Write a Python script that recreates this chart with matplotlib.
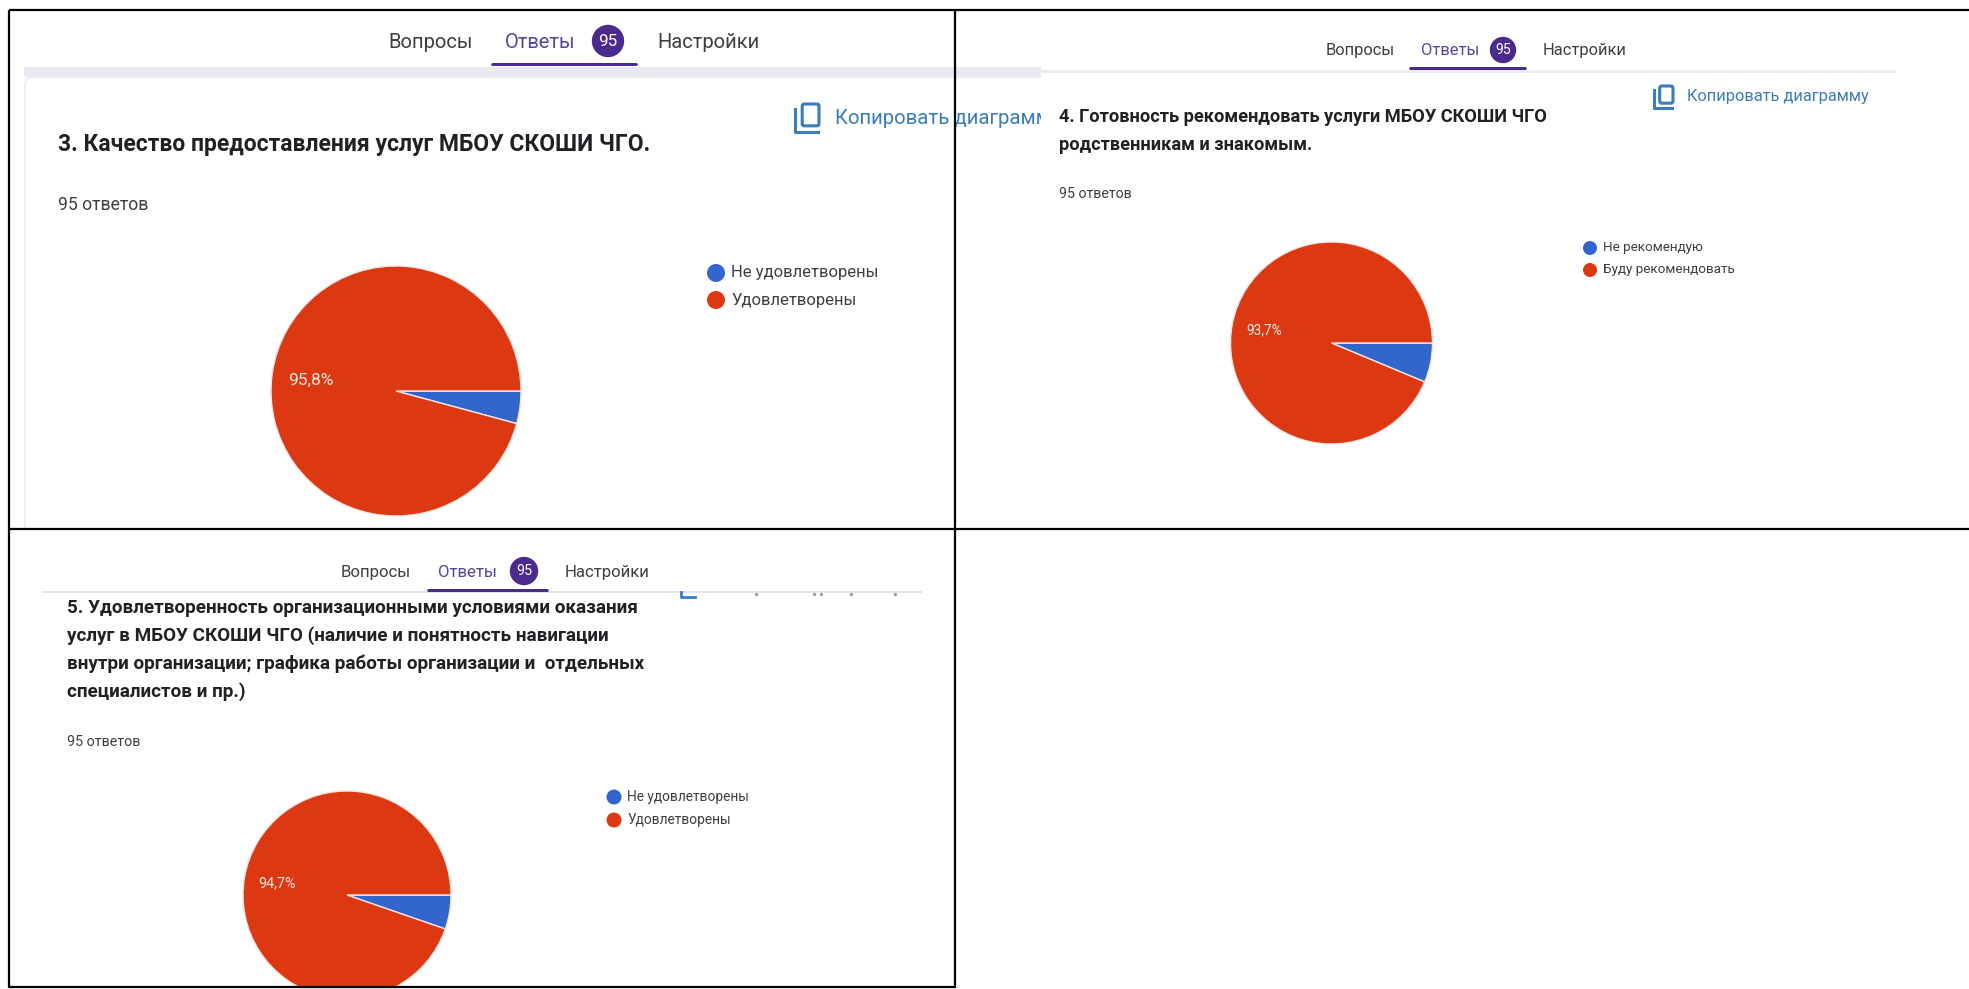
import matplotlib
matplotlib.use("Agg")
import matplotlib.pyplot as plt
from matplotlib.patches import Rectangle, FancyBboxPatch, Circle

plt.rcParams['font.family'] = ['Roboto', 'DejaVu Sans']

# percent shares
shares_q3 = [4.2, 95.8]
shares_q4 = [6.3, 93.7]
shares_q5 = [5.3, 94.7]
pie_colors = ['#3366cc', '#dc3912']

labels_q3 = ['Не удовлетворены', 'Удовлетворены']
labels_q4 = ['Не рекомендую', 'Буду рекомендовать']
labels_q5 = ['Не удовлетворены', 'Удовлетворены']

title_q3 = ['3. Качество предоставления услуг МБОУ СКОШИ ЧГО.']
title_q4 = ['4. Готовность рекомендовать услуги МБОУ СКОШИ ЧГО',
            'родственникам и знакомым.']
title_q5 = ['5. Удовлетворенность организационными условиями оказания',
            'услуг в МБОУ СКОШИ ЧГО (наличие и понятность навигации',
            'внутри организации; графика работы организации и  отдельных',
            'специалистов и пр.)']

W, H = 1969, 989
fig = plt.figure(figsize=(W / 100, H / 100), dpi=100, facecolor='white')
ax = fig.add_axes([0, 0, 1, 1])
ax.set_xlim(0, W)
ax.set_ylim(H, 0)
ax.axis('off')

DARK = '#3c4043'
TITLE = '#202124'
PURPLE = '#4a2a8c'
LINK = '#3a7dbd'


def tabs(xq, xa, xbadge, xn, y, rb, fs, x0, x1, yline):
    # shared baseline, so descenders do not shift the words against each other
    base = y + 0.46 * fs
    ax.text(xq, base, 'Вопросы', fontsize=fs, color=DARK, va='baseline')
    ax.text(xa, base, 'Ответы', fontsize=fs, color='#55459a', va='baseline')
    ax.add_patch(Circle((xbadge, y), rb, color=PURPLE, zorder=3))
    ax.text(xbadge, y, '95', fontsize=fs * 0.85, color='white', va='center', ha='center', zorder=4)
    ax.text(xn, base, 'Настройки', fontsize=fs, color=DARK, va='baseline')
    ax.add_patch(FancyBboxPatch((x0, yline - 3), x1 - x0, 3, boxstyle='round,pad=0,rounding_size=2',
                                color=PURPLE, lw=0, zorder=3))


def copy_icon(x, y, w, h):
    ax.add_patch(FancyBboxPatch((x + w * 0.3, y), w * 0.7, h * 0.78, boxstyle='round,pad=0,rounding_size=2',
                                fc='none', ec=LINK, lw=2.2))
    ax.plot([x, x, x + w * 0.95], [y + h * 0.18, y + h, y + h], color=LINK, lw=2.2)


def draw_pie(values, center, radius, pct, pct_xy, fs):
    # y axis runs downward here, so counterclock puts the small slice below 3 o'clock
    wedges, _ = ax.pie(values, colors=pie_colors, center=center, radius=radius, startangle=0,
                       counterclock=True, frame=True,
                       wedgeprops={'edgecolor': '#f4e4e4', 'linewidth': 1.0})
    ax.text(pct_xy[0], pct_xy[1], pct, color='#fbe9e4', fontsize=fs, va='center')
    return wedges


def legend(labels, xm, xt, ys, r, fs):
    for lab, col, y in zip(labels, pie_colors, ys):
        ax.add_patch(Circle((xm, y), r, color=col, lw=0))
        ax.text(xt, y, lab, fontsize=fs, color=DARK, va='center')


# top left panel
ax.add_patch(Rectangle((24, 67), 1017, 10, color='#e9e9f4', lw=0))
card = FancyBboxPatch((25, 77), 1100, 500, boxstyle='round,pad=0,rounding_size=8',
                      fc='white', ec='#e8e8ee', lw=1)
ax.add_patch(card)
card.set_clip_path(Rectangle((0, 0), 1041, 529, transform=ax.transData))
tabs(388, 505, 608, 657, 41, 15.5, 14.5, 491, 638, 66)
copy_icon(795, 104, 24, 28)
t = ax.text(835, 118, 'Копировать диаграмму', fontsize=14.7, color=LINK, va='center', clip_on=True)
t.set_clip_path(Rectangle((0, 0), 1041, H, transform=ax.transData))
ax.text(58, 145, title_q3[0], fontsize=16.5, weight='bold', color=TITLE, va='center')
ax.text(58, 205, '95 ответов', fontsize=12.7, color=DARK, va='center')
draw_pie(shares_q3, (396, 391), 125, '95,8%', (288, 380), 12.4)
legend(labels_q3, 716, 731, [273, 300], 9, 12)

# top right panel
ax.add_patch(Rectangle((1041, 70), 855, 2.5, color='#ececf0', lw=0))
tabs(1326, 1421, 1503, 1543, 50, 12.5, 11.9, 1409, 1527, 70)
copy_icon(1654, 86, 19, 22)
ax.text(1687, 97, 'Копировать диаграмму', fontsize=11.8, color=LINK, va='center')
for line, y in zip(title_q4, [117, 145]):
    ax.text(1059, y, line, fontsize=13.15, weight='bold', color=TITLE, va='center')
ax.text(1059, 194, '95 ответов', fontsize=10.2, color=DARK, va='center')
draw_pie(shares_q4, (1331.5, 343), 101, '93,7%', (1246, 330), 9.8)
legend(labels_q4, 1590, 1603, [248, 270], 7, 9.7)

# bottom left panel
ax.add_patch(Rectangle((42, 591), 880, 2, color='#e4e4e8', lw=0))
tabs(341, 438, 524, 565, 571, 13.5, 12.1, 427, 549, 592)
# what is left of the scrolled-away copy button under the tab bar
ax.plot([681, 681, 695], [592, 597, 597], color=LINK, lw=2)
ax.plot([756, 814, 821, 851, 895], [594] * 5, ls='none', marker='o', ms=1.3, color='#8a9bb0')
for line, y in zip(title_q5, [608, 636, 664, 692]):
    ax.text(67, y, line, fontsize=13.6, weight='bold', color=TITLE, va='center')
ax.text(67, 742, '95 ответов', fontsize=10.3, color=DARK, va='center')
draw_pie(shares_q5, (347, 895), 104, '94,7%', (258, 883), 10.4)
legend(labels_q5, 614, 627, [797, 820], 7.5, 9.9)

# table frame
ax.add_patch(Rectangle((0, 987), W, 2, color='white', lw=0, zorder=5))
for xs, ys in [([9, 9], [10, 988]), ([955, 955], [10, 988]),
               ([9, W], [10, 10]), ([9, W], [529, 529]), ([9, 955], [987, 987])]:
    ax.plot(xs, ys, color='black', lw=1.6, zorder=6, solid_capstyle='butt')

ax.set_xlim(0, W)
ax.set_ylim(H, 0)
ax.set_aspect('auto')
ax.axis('off')
fig.savefig('out.png', dpi=100)
